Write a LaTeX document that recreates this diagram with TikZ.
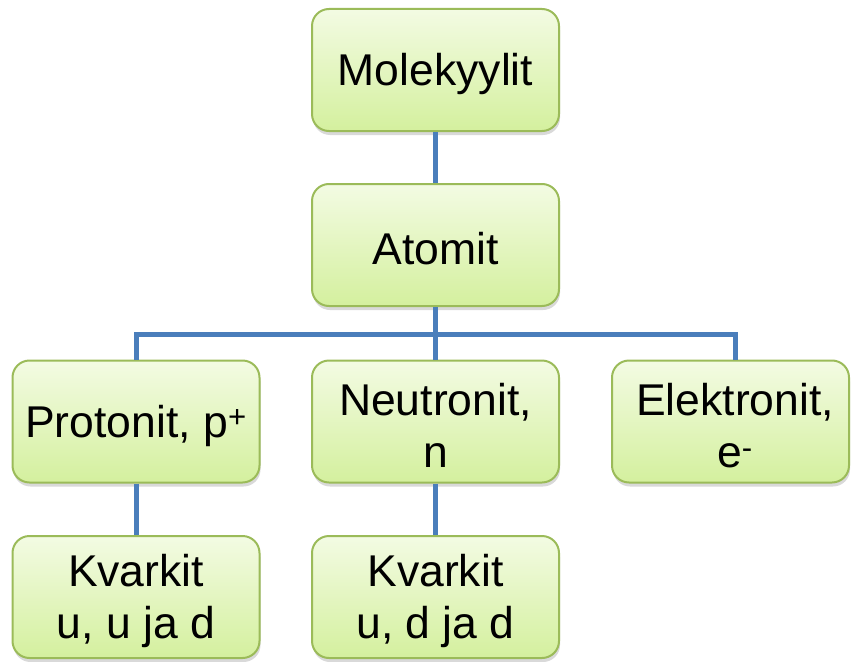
\documentclass[tikz,border=0pt]{standalone}
\usepackage{fontspec}
\setmainfont{Liberation Sans}
\usetikzlibrary{shadows}
\definecolor{boxtop}{HTML}{F3FBE3}
\definecolor{boxbot}{HTML}{D4F09E}
\definecolor{boxline}{HTML}{9BBB59}
\definecolor{conn}{HTML}{4A7EBB}
\tikzset{
  box/.style={rectangle, rounded corners=17pt, draw=boxline, line width=2pt,
    top color=boxtop, bottom color=boxbot, minimum width=247pt, minimum height=122pt,
    inner sep=0pt,
    drop shadow={shadow xshift=1pt, shadow yshift=-4pt, opacity=0.25, fill=black!60}},
  txt/.style={label={[align=center, inner sep=0pt, yshift=-4pt,
    font=\fontsize{44.5}{51.5}\selectfont]center:#1}},
  link/.style={draw=conn, line width=5pt}
}
\begin{document}
\begin{tikzpicture}[x=1pt,y=-1pt]
\useasboundingbox (0,0) rectangle (851,661);
\coordinate (bus) at (0,334);
\node[box, txt={Molekyylit}] (mol) at (435.5,70) {};
\node[box, txt={Atomit}] (atom) at (435.5,245) {};
\node[box, txt={Protonit, p\textsuperscript{+}}] (prot) at (136,421.5) {};
\node[box, txt={Neutronit,\\n}] (neut) at (435.5,421.5) {};
\node[box, minimum width=237pt, txt={\hspace*{9pt}Elektronit,\\\hspace*{9pt}e\textsuperscript{-}}] (elek) at (730.5,421.5) {};
\node[box, txt={Kvarkit\\u, u ja d}] (k1) at (136,597) {};
\node[box, txt={Kvarkit\\u, d ja d}] (k2) at (435.5,597) {};
\draw[link] (mol.south) -- (atom.north);
\draw[link] (atom.south) -- (atom.south |- bus);
\draw[link] (prot.north) -- (prot.north |- bus) -- ([xshift=4.5pt]elek.north |- bus) -- ([xshift=4.5pt]elek.north);
\draw[link] (neut.north) -- (neut.north |- bus);
\draw[link] (prot.south) -- (k1.north);
\draw[link] (neut.south) -- (k2.north);
\end{tikzpicture}
\end{document}
